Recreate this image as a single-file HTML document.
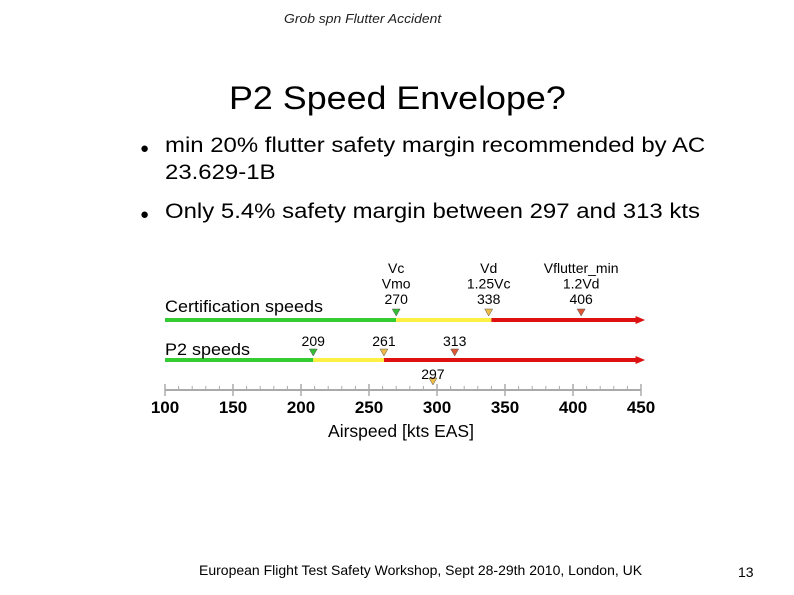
<!DOCTYPE html>
<html><head><meta charset="utf-8"><style>
body{margin:0;width:794px;height:595px;background:#fff;font-family:"Liberation Sans",sans-serif;position:relative;overflow:hidden}
.t{position:absolute;white-space:nowrap;transform-origin:0 0}
</style></head><body>
<div class="t" style="left:284px;top:11px;font-size:13px;font-style:italic;color:#222;transform:scaleX(1.07)">Grob spn Flutter Accident</div>
<div class="t" style="left:229px;top:80px;font-size:32px;transform:scaleX(1.12)">P2 Speed Envelope?</div>
<div class="t" style="left:140px;top:135px;font-size:15px;line-height:27px">●</div>
<div class="t" style="left:165px;top:132px;font-size:21px;line-height:27px;transform:scaleX(1.14)">min 20% flutter safety margin recommended by AC<br>23.629-1B</div>
<div class="t" style="left:140px;top:201px;font-size:15px;line-height:27px">●</div>
<div class="t" style="left:165px;top:198px;font-size:21px;line-height:27px;transform:scaleX(1.14)">Only 5.4% safety margin between 297 and 313 kts</div>
<svg id="chart" width="794" height="595" style="position:absolute;left:0;top:0" font-family="Liberation Sans, sans-serif"></svg>
<div class="t" style="left:199px;top:562px;font-size:14px">European Flight Test Safety Workshop, Sept 28-29th 2010, London, UK</div>
<div class="t" style="left:738px;top:564px;font-size:14px">13</div>
<script>
const ticks=[100,150,200,250,300,350,400,450];
const certBreaks=[270,340];
const certMarkers=[270,338,406];
const certLabels=[["Vc","Vmo","270"],["Vd","1.25Vc","338"],["Vflutter_min","1.2Vd","406"]];
const p2Breaks=[209,261];
const p2Markers=[209,261,313];
const p2Labels=["209","261","313"];
const extraMarker=[297];
const NS="http://www.w3.org/2000/svg",svg=document.getElementById('chart');
const x=v=>165+(v-100)*(476/350);
function el(t,a,txt){const e=document.createElementNS(NS,t);for(const k in a)e.setAttribute(k,a[k]);if(txt!=null)e.textContent=txt;svg.appendChild(e);return e;}
const G="#33cc33",Y="#ffee44",R="#dd1111";
const mc=["#33bb33","#eebb44","#dd5533"];
let a=el('line',{x1:x(100),x2:x(450),y1:390,y2:390,stroke:"#aaa","stroke-width":2});
for(let v=100;v<=450;v+=10){const big=v%50==0;const t=el('line',{x1:x(v),x2:x(v),y1:big?384:386,y2:big?396:390,stroke:"#aaa","stroke-width":big?1.5:1});}
ticks.forEach(v=>{const t=el('text',{x:x(v),y:413,"text-anchor":"middle","font-size":17,"font-weight":"bold"},v);});
let at=el('text',{x:401,y:437,"text-anchor":"middle","font-size":17.5},"Airspeed [kts EAS]");
function bar(y,br,nm){const segs=[[100,br[0],G],[br[0],br[1],Y],[br[1],448,R]];
segs.forEach(s=>{const l=el('line',{x1:x(s[0]),x2:x(s[1]),y1:y,y2:y,stroke:s[2],"stroke-width":4});});
const p=el('polygon',{points:`${x(446)},${y-4} ${x(453)},${y} ${x(446)},${y+4}`,fill:R});}
function mark(v,y,c,nm){const p=el('polygon',{points:`${x(v)-4},${y-4} ${x(v)+4},${y-4} ${x(v)},${y+3}`,fill:c,stroke:"#555","stroke-width":0.5});}
bar(320,certBreaks,'cert-line');bar(360,p2Breaks,'p2-line');
certMarkers.forEach((v,i)=>{mark(v,313,mc[i],'cert-marker');certLabels[i].forEach((s,j)=>{const t=el('text',{x:x(v),y:273+j*15.5,"text-anchor":"middle","font-size":14},s);});});
p2Markers.forEach((v,i)=>{mark(v,353,mc[i],'p2-marker');const t=el('text',{x:x(v),y:346,"text-anchor":"middle","font-size":14},p2Labels[i]);});
extraMarker.forEach(v=>{mark(v,382,mc[1],'marker-297');const t=el('text',{x:x(v),y:379,"text-anchor":"middle","font-size":14},v);});
let c1=el('text',{x:165,y:312,"font-size":17,"textLength":158,"lengthAdjust":"spacingAndGlyphs"},"Certification speeds");
let c2=el('text',{x:165,y:355,"font-size":17,"textLength":85,"lengthAdjust":"spacingAndGlyphs"},"P2 speeds");
</script>
</body></html>
